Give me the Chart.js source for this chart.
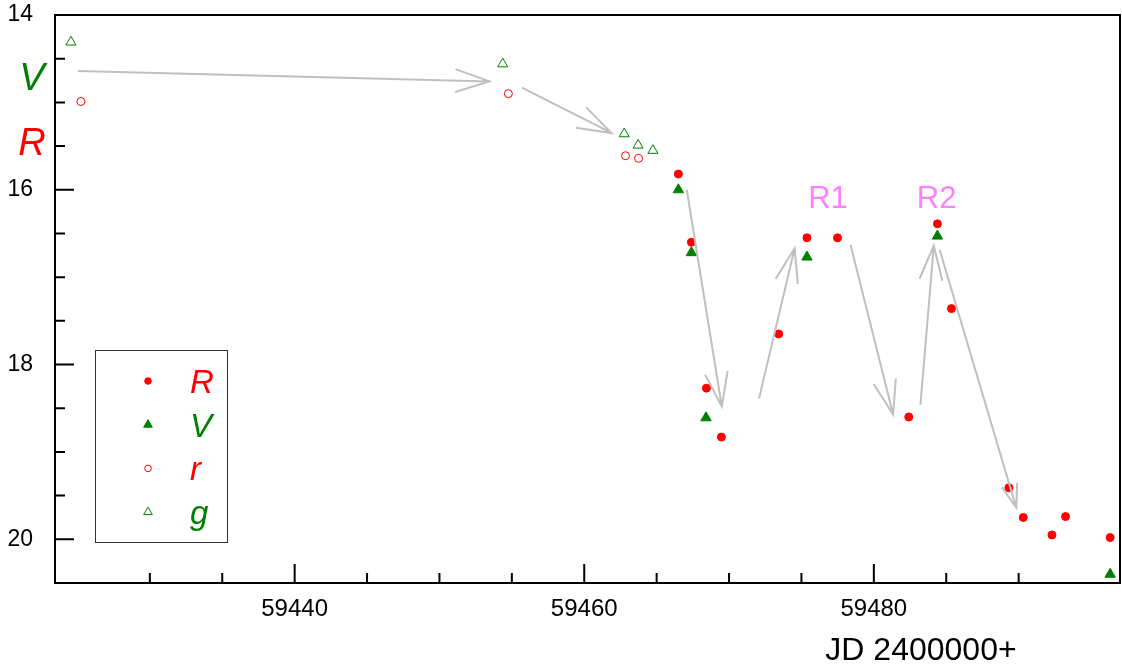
<!DOCTYPE html>
<html>
<head>
<meta charset="utf-8">
<script src="https://cdn.jsdelivr.net/npm/chart.js@4/dist/chart.umd.min.js"></script>
<style>
  html, body { margin: 0; padding: 0; background: #fff; }
  #wrap { width: 1122px; height: 666px; }
</style>
</head>
<body>
<div id="wrap"><canvas id="lightCurve"></canvas></div>
<script>
// Light curve: JD - 2400000 against magnitude
var jdR  = [59466.50, 59467.40, 59468.44, 59469.47, 59473.43, 59475.38, 59477.49, 59482.41, 59484.39, 59485.36, 59489.33, 59490.32, 59492.30, 59493.24, 59496.32];
var magR = [15.82, 16.60, 18.27, 18.83, 17.65, 16.55, 16.55, 18.60, 16.39, 17.36, 19.41, 19.75, 19.95, 19.74, 19.98];

var jdV  = [59466.50, 59467.40, 59468.41, 59475.38, 59484.39, 59496.32];
var magV = [16.00, 16.72, 18.61, 16.77, 16.53, 20.40];

var jdr  = [59425.24, 59454.76, 59462.85, 59463.75];
var magr = [14.99, 14.90, 15.61, 15.64];

var jdg  = [59424.55, 59454.37, 59462.76, 59463.72, 59464.74];
var magg = [14.31, 14.56, 15.36, 15.49, 15.55];

var xTickLabels = [59440, 59460, 59480];
var yTickLabels = [14, 16, 18, 20];

// trend arrows, [jd, mag] -> [jd, mag]
var arrows = [
  [[59425.03, 14.64], [59453.45, 14.76]],
  [[59455.70, 14.83], [59461.88, 15.35]],
  [[59467.08, 16.00], [59469.50, 18.48]],
  [[59472.07, 18.39], [59474.53, 16.67]],
  [[59478.39, 16.63], [59481.33, 18.57]],
  [[59483.22, 18.46], [59484.14, 16.64]],
  [[59484.55, 16.69], [59489.84, 19.64]]
];
var arrowHeads = [36, 36, 36, 36, 36, 36, 25];

var peakNames = ['R1', 'R2'];
var peakJd    = [59476.83, 59484.34];
var peakMag   = [16.21, 16.21];

var FONT = '"Liberation Sans", Arial, sans-serif';
var RED = '#ff0000', GREEN = '#008000';

function pts(xs, ys) {
  return xs.map(function (x, i) { return { x: x, y: ys[i] }; });
}

// no extra room around the plot for the end tick labels
function noScalePadding(s) {
  s.paddingTop = 0;
  s.paddingBottom = 0;
  s.paddingLeft = 0;
  s.paddingRight = 0;
}

var framePlugin = {
  id: 'frame',
  afterDatasetsDraw: function (chart) {
    var ctx = chart.ctx, xs = chart.scales.x, ys = chart.scales.y;

    // arrows
    ctx.save();
    ctx.strokeStyle = '#c0c0c0';
    ctx.lineWidth = 2;
    arrows.forEach(function (a, i) {
      var x0 = xs.getPixelForValue(a[0][0]), y0 = ys.getPixelForValue(a[0][1]);
      var x1 = xs.getPixelForValue(a[1][0]), y1 = ys.getPixelForValue(a[1][1]);
      var ang = Math.atan2(y1 - y0, x1 - x0);
      var h = arrowHeads[i], spread = 18.5 * Math.PI / 180;
      ctx.beginPath();
      ctx.moveTo(x0, y0);
      ctx.lineTo(x1, y1);
      ctx.moveTo(x1 - h * Math.cos(ang - spread), y1 - h * Math.sin(ang - spread));
      ctx.lineTo(x1, y1);
      ctx.lineTo(x1 - h * Math.cos(ang + spread), y1 - h * Math.sin(ang + spread));
      ctx.stroke();
    });

    // peak names
    ctx.fillStyle = '#ff80ff';
    ctx.font = '31px ' + FONT;
    ctx.textAlign = 'center';
    ctx.textBaseline = 'alphabetic';
    peakNames.forEach(function (t, i) {
      ctx.fillText(t, xs.getPixelForValue(peakJd[i]), ys.getPixelForValue(peakMag[i]));
    });
    ctx.restore();
  },
  afterDraw: function (chart) {
    var ctx = chart.ctx, a = chart.chartArea;
    var xs = chart.scales.x, ys = chart.scales.y;
    ctx.save();

    // box and inward ticks
    ctx.strokeStyle = '#000';
    ctx.lineWidth = 2;
    ctx.strokeRect(a.left, a.top, a.right - a.left, a.bottom - a.top);
    ctx.beginPath();
    xs.ticks.forEach(function (t) {
      var v = t.value;
      if (Math.abs(v / 5 - Math.round(v / 5)) > 1e-6) return;
      var px = xs.getPixelForValue(v);
      var len = (v % 20 === 0) ? 19 : 10;
      ctx.moveTo(px, a.bottom);
      ctx.lineTo(px, a.bottom - len);
    });
    ys.ticks.forEach(function (t) {
      var v = t.value;
      if (v >= 20.5) return;
      var py = ys.getPixelForValue(v);
      var len = (Math.abs(v / 2 - Math.round(v / 2)) < 1e-6) ? 19 : 10;
      ctx.moveTo(a.left, py);
      ctx.lineTo(a.left + len, py);
    });
    ctx.stroke();

    // band names beside the y axis
    ctx.font = 'italic 38px ' + FONT;
    ctx.textAlign = 'center';
    ctx.textBaseline = 'alphabetic';
    ctx.fillStyle = GREEN;
    ctx.fillText('V', 32, 90);
    ctx.fillStyle = RED;
    ctx.fillText('R', 32, 155);

    // x axis title
    ctx.fillStyle = '#000';
    ctx.font = '32px ' + FONT;
    ctx.fillText('JD 2400000+', 921, 660);

    // legend
    var bx = a.left + 40, by = a.bottom - 233, bw = 132, bh = 192;
    ctx.lineWidth = 1;
    ctx.strokeStyle = '#333';
    ctx.strokeRect(bx + 0.5, by + 0.5, bw, bh);
    ctx.font = 'italic 33px ' + FONT;
    ctx.textAlign = 'left';
    chart.data.datasets.forEach(function (ds, i) {
      var cy = by + 31 + i * 43.7;
      ctx.fillStyle = ds.backgroundColor;
      ctx.strokeStyle = ds.borderColor;
      ctx.lineWidth = 1;
      Chart.helpers.drawPoint(ctx, {
        pointStyle: ds.pointStyle,
        radius: ds.pointStyle === 'circle' ? 3.3 : 5,
        rotation: 0,
        borderWidth: 1
      }, bx + 53, cy);
      ctx.fillStyle = ds.borderColor;
      ctx.fillText(ds.label, bx + 95, cy + 12);
    });

    ctx.restore();
  }
};

new Chart(document.getElementById('lightCurve'), {
  type: 'scatter',
  data: {
    datasets: [
      { label: 'R', data: pts(jdR, magR), pointStyle: 'circle', pointRadius: 4,
        backgroundColor: RED, borderColor: RED, borderWidth: 1, order: 2 },
      { label: 'V', data: pts(jdV, magV), pointStyle: 'triangle', pointRadius: 6,
        backgroundColor: GREEN, borderColor: GREEN, borderWidth: 1, order: 1 },
      { label: 'r', data: pts(jdr, magr), pointStyle: 'circle', pointRadius: 4,
        backgroundColor: 'rgba(255,255,255,0)', borderColor: RED, borderWidth: 1, order: 3 },
      { label: 'g', data: pts(jdg, magg), pointStyle: 'triangle', pointRadius: 5.8,
        backgroundColor: 'rgba(255,255,255,0)', borderColor: GREEN, borderWidth: 1, order: 4 }
    ]
  },
  options: {
    responsive: true,
    maintainAspectRatio: false,
    animation: false,
    layout: { autoPadding: false, padding: { top: 15, right: 2, left: 0, bottom: 0 } },
    scales: {
      x: {
        type: 'linear',
        min: 59423.45,
        max: 59497,
        grid: { display: false, drawTicks: false, tickLength: 0 },
        border: { display: false },
        ticks: {
          stepSize: 5,
          autoSkip: false,
          maxRotation: 0,
          padding: 12,
          color: '#000',
          font: { family: FONT, size: 24 },
          callback: function (v) { return xTickLabels.indexOf(v) >= 0 ? String(v) : ''; }
        },
        afterFit: function (s) { s.height = 83; noScalePadding(s); }
      },
      y: {
        type: 'linear',
        reverse: true,
        min: 14,
        max: 20.5,
        grid: { display: false, drawTicks: false, tickLength: 0 },
        border: { display: false },
        ticks: {
          stepSize: 0.5,
          autoSkip: false,
          padding: 22,
          color: '#000',
          font: { family: FONT, size: 23 },
          callback: function (v) { return yTickLabels.indexOf(v) >= 0 ? String(v) : ''; }
        },
        afterFit: function (s) { s.width = 55; noScalePadding(s); }
      }
    },
    plugins: {
      legend: { display: false },
      tooltip: { enabled: false }
    }
  },
  plugins: [framePlugin]
});
</script>
</body>
</html>
